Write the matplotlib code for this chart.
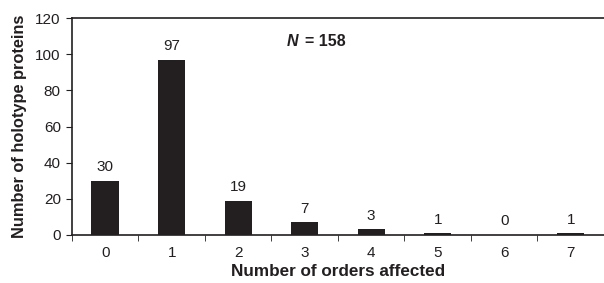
import matplotlib.pyplot as plt
import numpy as np

orders = [0, 1, 2, 3, 4, 5, 6, 7]
counts = [30, 97, 19, 7, 3, 1, 0, 1]

dark = '#231f20'
plt.rcParams['font.family'] = ['Liberation Sans', 'DejaVu Sans']

fig = plt.figure(figsize=(6.04, 2.83), dpi=100)
ax = fig.add_axes([0.119, 0.170, 0.881, 0.766])

ax.bar(orders, counts, width=0.41, color=dark)
for x, c in zip(orders, counts):
    ax.text(x, c + 7.5, str(c), ha='center', va='center', fontsize=11, color=dark)

ax.set_xlim(-0.5, 7.5)
ax.set_ylim(0, 120)
ax.set_yticks(range(0, 121, 20))
ax.set_xticks(orders)
ax.set_xticks(np.arange(-0.5, 7.6, 1), minor=True)
ax.tick_params(axis='x', which='major', length=0, pad=8, labelsize=11, colors=dark)
ax.tick_params(axis='x', which='minor', length=4, color=dark)
ax.tick_params(axis='y', length=4, labelsize=11, colors=dark, pad=4)

for s in ['top', 'left', 'bottom']:
    ax.spines[s].set_color(dark)
    ax.spines[s].set_linewidth(1.2)
ax.spines['right'].set_visible(False)

ax.set_xlabel('Number of orders affected', fontsize=12.3, fontweight='bold', color=dark, labelpad=3)
ax.set_ylabel('Number of holotype proteins', fontsize=11.8, fontweight='bold', color=dark, labelpad=6)

# N = 158 annotation
nt = ax.text(0.404, 0.89, 'N', transform=ax.transAxes, fontsize=11.5, fontweight='bold',
             fontstyle='italic', ha='left', va='center', color=dark)
ax.annotate('= 158', xy=(1, 0.5), xycoords=nt, xytext=(5, 0), textcoords='offset points',
            fontsize=11.5, fontweight='bold', ha='left', va='center', color=dark)

fig.savefig('out.png', dpi=100)
